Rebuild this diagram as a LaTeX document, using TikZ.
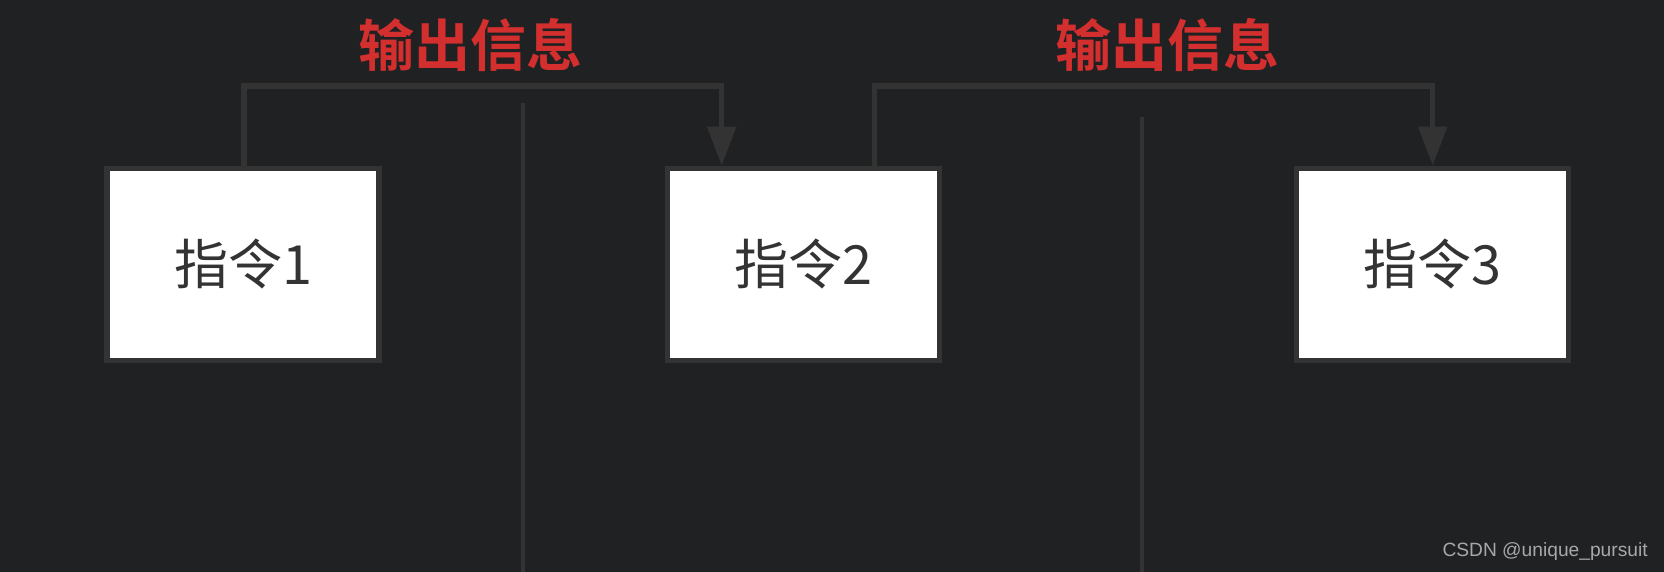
\documentclass[tikz,border=0pt]{standalone}
\usepackage{fontspec}
\newfontfamily\cjk{Noto Sans CJK SC}
\newfontfamily\cjkb{Noto Sans CJK SC Bold}
\usetikzlibrary{arrows.meta}
\definecolor{bg}{HTML}{202123}
\definecolor{edge}{HTML}{333333}
\definecolor{lab}{HTML}{D32F2F}
\definecolor{mark}{HTML}{A8A8A8}
\tikzset{
  instr/.style={draw=edge, line width=2.6pt, fill=white, minimum width=136pt, minimum height=96pt, inner sep=0pt, font=\cjk\fontsize{27}{32}\selectfont, text=edge},
  conn/.style={draw=edge, line width=2.6pt, -{Triangle[length=19.5pt,width=14pt]}},
  divider/.style={draw=edge, line width=2.2pt},
  outlab/.style={font=\cjkb\fontsize{28}{32}\selectfont, text=lab, inner sep=0pt},
}
\begin{document}
\begin{tikzpicture}[x=0.5306pt,y=-0.5306pt]
\fill[bg] (0,0) rectangle (1568,539);
\useasboundingbox (0,0) rectangle (1568,539);
\node[instr] (i1) at (229,249) {指令1};
\node[instr] (i2) at (757.5,249) {指令2};
\node[instr] (i3) at (1350,249) {指令3};
\coordinate (t1) at (493,97);
\coordinate (b1) at (493,539);
\coordinate (t2) at (1076,110);
\coordinate (b2) at (1076,539);
\draw[divider] (t1) -- (b1);
\draw[divider] (t2) -- (b2);
\coordinate (a1) at (230,81);
\coordinate (a2) at (680,81);
\coordinate (c1) at (824,81);
\coordinate (c2) at (1350,81);
\draw[conn] (i1.north -| a1) -- (a1) -- (a2) -- (a2 |- i2.north);
\draw[conn] (i2.north -| c1) -- (c1) -- (c2) -- (c2 |- i3.north);
\node[outlab] (o1) at (443,42) {输出信息};
\node[outlab] (o2) at (1100,42) {输出信息};
\node[font=\fontspec{Liberation Sans}\fontsize{9.6}{11}\selectfont, text=mark, anchor=east, inner sep=0pt] (w) at (1553,520) {CSDN @unique\_pursuit};
\end{tikzpicture}
\end{document}
